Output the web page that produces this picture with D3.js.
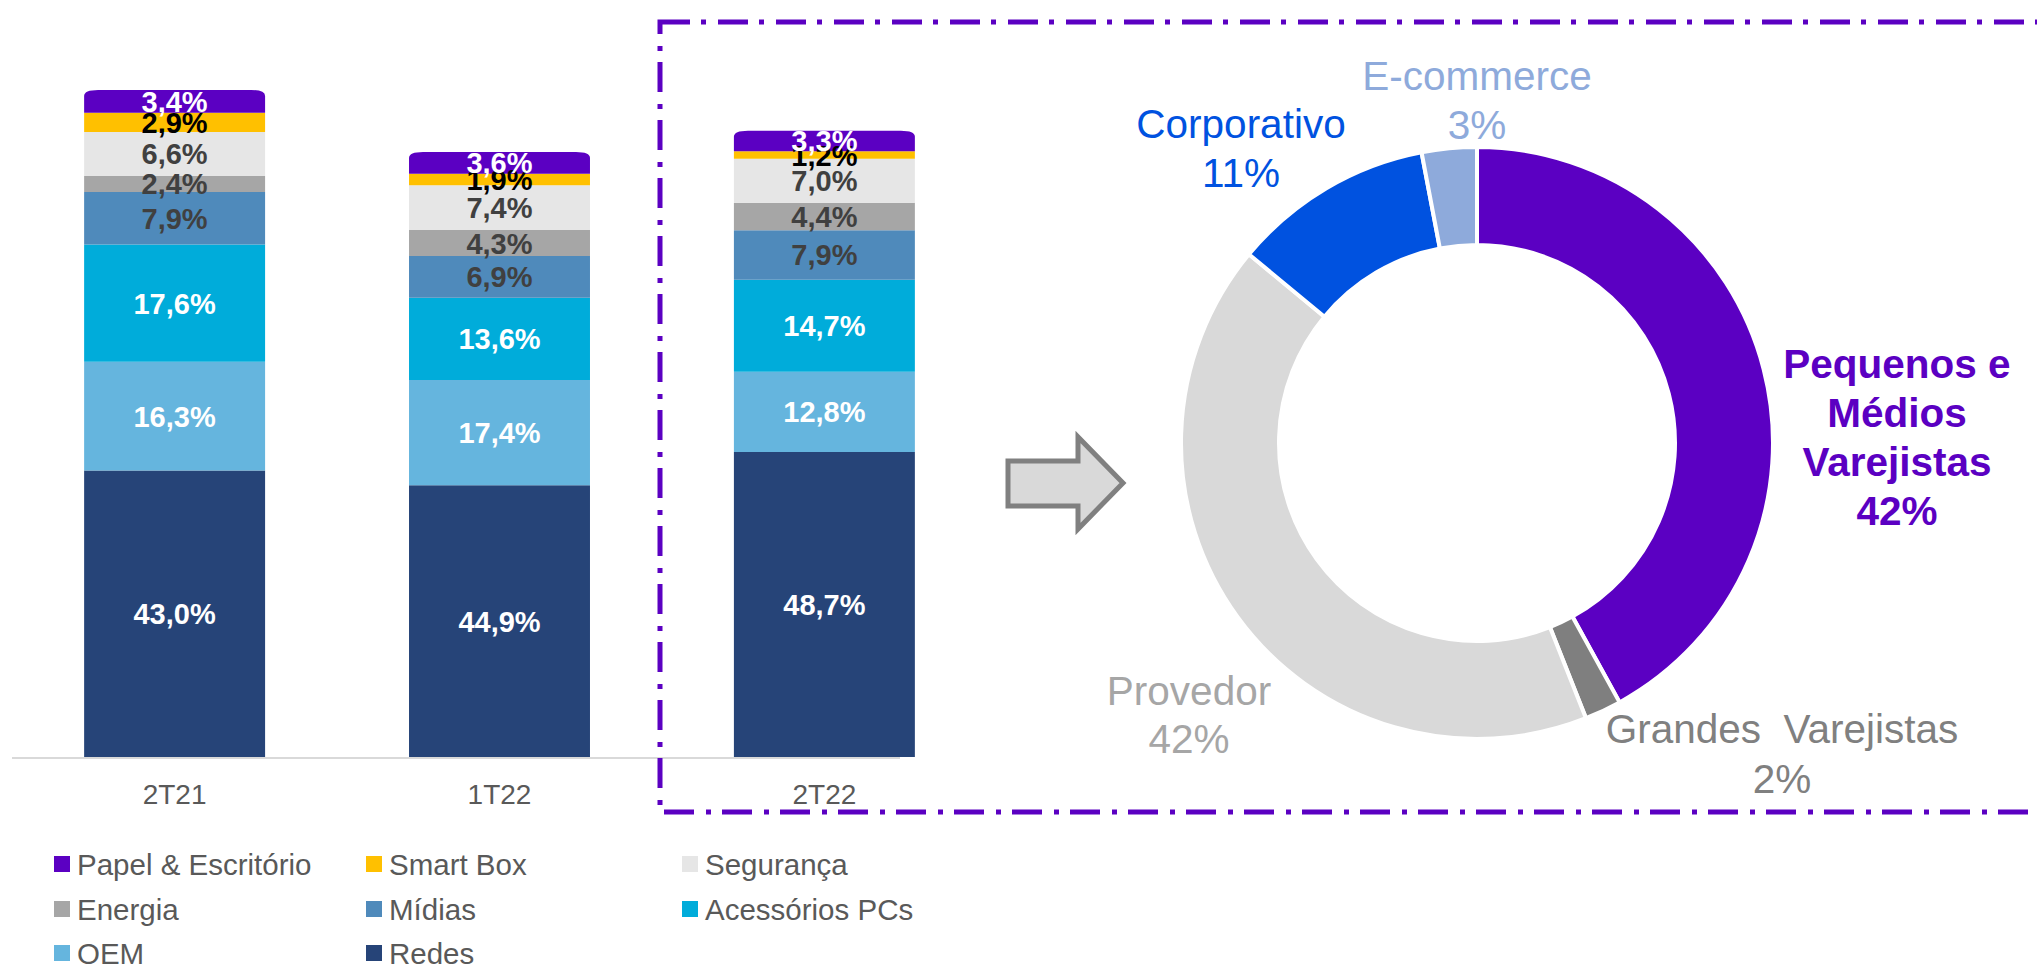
<!DOCTYPE html>
<html>
<head>
<meta charset="utf-8">
<script src="https://cdn.jsdelivr.net/npm/d3@7"></script>
<style>
  body { margin: 0; background: #fff; }
  svg { display: block; font-family: "Liberation Sans", Arial, sans-serif; }
</style>
</head>
<body>
<svg id="chart"></svg>
<script>
// receita por linha de produto (% do total) e canal de venda 2T22
const quarters = ["2T21", "1T22", "2T22"];
// tamanho relativo de cada barra (2T21 = 100)
const totals = [100, 90.7, 93.9];

const segments = ["Redes", "OEM", "Acessórios PCs", "Mídias", "Energia", "Segurança", "Smart Box", "Papel & Escritório"];
const redes      = [43.0, 44.9, 48.7];
const oem        = [16.3, 17.4, 12.8];
const acessorios = [17.6, 13.6, 14.7];
const midias     = [7.9, 6.9, 7.9];
const energia    = [2.4, 4.3, 4.4];
const seguranca  = [6.6, 7.4, 7.0];
const smartBox   = [2.9, 1.9, 1.2];
const papel      = [3.4, 3.6, 3.3];
const shares = [redes, oem, acessorios, midias, energia, seguranca, smartBox, papel];

const segColors = ["#264478", "#65B5DE", "#00ACDA", "#4F8ABB", "#A6A6A6", "#E6E6E6", "#FFC000", "#5B00C2"];
const segLabelColors = ["#fff", "#fff", "#fff", "#404040", "#404040", "#404040", "#000", "#fff"];

const legendOrder = ["Papel & Escritório", "Smart Box", "Segurança", "Energia", "Mídias", "Acessórios PCs", "OEM", "Redes"];

const canais = ["Pequenos e Médios Varejistas", "Grandes Varejistas", "Provedor", "Corporativo", "E-commerce"];
const canalShare = [42, 2, 42, 11, 3];
const canalColors = ["#5B00C2", "#7F7F7F", "#D9D9D9", "#0052E0", "#8EAADB"];

const W = 2037, H = 969;
const svg = d3.select("#chart").attr("width", W).attr("height", H);

// ---------- stacked bars ----------
const baseY = 757;
const x = d3.scaleBand().domain(quarters).range([12, 987]).paddingInner(0.443).paddingOuter(0.222);
const y = d3.scaleLinear().domain([0, 100]).range([baseY, 90]);
const fmt = v => d3.format(".1f")(v).replace(".", ",") + "%";

const rows = [];
quarters.forEach((q, qi) => {
  const sum = d3.sum(shares, s => s[qi]);
  let acc = 0;
  segments.forEach((s, si) => {
    const v = shares[si][qi] / sum * totals[qi];
    rows.push({q, si, share: shares[si][qi], y0: acc, y1: acc + v, top: si === segments.length - 1});
    acc += v;
  });
});

svg.append("line")
  .attr("x1", 12).attr("x2", 900)
  .attr("y1", baseY + 1).attr("y2", baseY + 1)
  .attr("stroke", "#D9D9D9").attr("stroke-width", 2);

function roundTop(x0, y0, w, h, rx, ry) {
  return `M${x0},${y0 + h}V${y0 + ry}Q${x0},${y0} ${x0 + rx},${y0}H${x0 + w - rx}Q${x0 + w},${y0} ${x0 + w},${y0 + ry}V${y0 + h}Z`;
}

const bars = svg.append("g");
bars.selectAll("path")
  .data(rows)
  .enter().append("path")
  .attr("fill", d => segColors[d.si])
  .attr("d", d => {
    const x0 = x(d.q), w = x.bandwidth(), y0 = y(d.y1), h = y(d.y0) - y(d.y1);
    return d.top ? roundTop(x0, y0, w, h, 14, 6) : `M${x0},${y0}h${w}v${h}h${-w}Z`;
  });

bars.selectAll("text")
  .data(rows)
  .enter().append("text")
  .attr("x", d => x(d.q) + x.bandwidth() / 2)
  .attr("y", d => (y(d.y0) + y(d.y1)) / 2)
  .attr("dy", "0.36em")
  .attr("text-anchor", "middle")
  .attr("font-size", 29)
  .attr("font-weight", "bold")
  .attr("fill", d => segLabelColors[d.si])
  .text(d => fmt(d.share));

svg.append("g")
  .selectAll("text")
  .data(quarters)
  .enter().append("text")
  .attr("x", d => x(d) + x.bandwidth() / 2)
  .attr("y", 804)
  .attr("text-anchor", "middle")
  .attr("font-size", 28)
  .attr("fill", "#595959")
  .text(d => d);

// ---------- legend ----------
const legCols = [54, 366, 682], legRows = [864, 909, 953];
const leg = svg.append("g")
  .selectAll("g")
  .data(legendOrder)
  .enter().append("g")
  .attr("transform", (d, i) => `translate(${legCols[i % 3]},${legRows[Math.floor(i / 3)]})`);
leg.append("rect")
  .attr("y", -8).attr("width", 16).attr("height", 16)
  .attr("fill", d => segColors[segments.indexOf(d)]);
leg.append("text")
  .attr("x", 23).attr("dy", "0.36em")
  .attr("font-size", 29.5)
  .attr("fill", "#595959")
  .text(d => d);

// ---------- dashed frame ----------
svg.append("rect")
  .attr("x", 660).attr("y", 22)
  .attr("width", 1420).attr("height", 790)
  .attr("fill", "none")
  .attr("stroke", "#5B00C2")
  .attr("stroke-width", 5)
  .attr("stroke-dasharray", "30,11,5,12");

// ---------- arrow ----------
svg.append("path")
  .attr("d", "M1008,461H1078V437L1123,483L1078,529V506H1008Z")
  .attr("fill", "#D9D9D9")
  .attr("stroke", "#808080")
  .attr("stroke-width", 5);

// ---------- donut ----------
const cx = 1477, cy = 443;
const pie = d3.pie().sort(null).value(d => d);
const arc = d3.arc().innerRadius(198).outerRadius(296);
const donut = svg.append("g").attr("transform", `translate(${cx},${cy})`);
donut.selectAll("path")
  .data(pie(canalShare))
  .enter().append("path")
  .attr("d", arc)
  .attr("fill", (d, i) => canalColors[i])
  .attr("stroke", "#fff")
  .attr("stroke-width", 4);

// label layout: offset from donut centre, lines, style
const labelLayout = [
  {dx: 420, dy: -65, lines: ["Pequenos e", "Médios", "Varejistas"], color: "#5B00C2", bold: true, lh: 49},
  {dx: 305, dy: 300, lines: ["Grandes  Varejistas"], color: "#808080", bold: false, lh: 50},
  {dx: -288, dy: 262, lines: ["Provedor"], color: "#A6A6A6", bold: false, lh: 48},
  {dx: -236, dy: -305, lines: ["Corporativo"], color: "#0052E0", bold: false, lh: 49},
  {dx: 0, dy: -353, lines: ["E-commerce"], color: "#8EAADB", bold: false, lh: 49}
];

canais.forEach((c, i) => {
  const L = labelLayout[i];
  const t = donut.append("text")
    .attr("text-anchor", "middle")
    .attr("font-size", 40.5)
    .attr("font-weight", L.bold ? "bold" : "normal")
    .attr("fill", L.color)
    .style("white-space", "pre");
  L.lines.concat([canalShare[i] + "%"]).forEach((s, k) => {
    t.append("tspan")
      .attr("x", L.dx)
      .attr("y", L.dy + k * L.lh)
      .text(s);
  });
});
</script>
</body>
</html>
